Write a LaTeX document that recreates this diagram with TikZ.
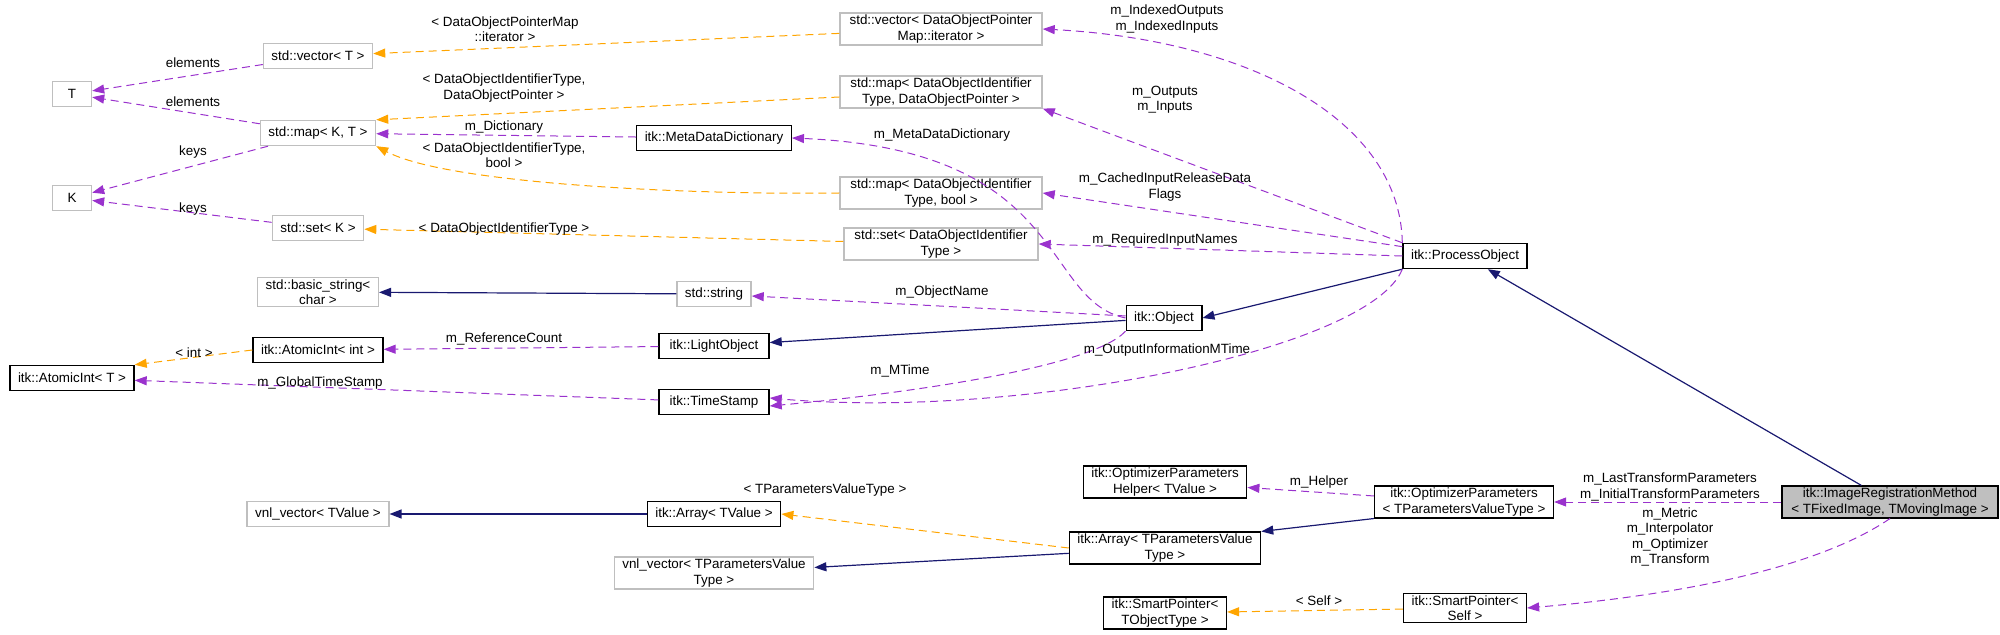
\documentclass[tikz,border=0pt]{standalone}
\usepackage{fontspec}
\setmainfont{Liberation Sans}
\usetikzlibrary{arrows.meta}
\definecolor{usecol}{HTML}{9A32CD}
\definecolor{tplcol}{HTML}{FFA500}
\definecolor{inhcol}{HTML}{191970}
\definecolor{extcol}{HTML}{BFBFBF}
\begin{document}
\begin{tikzpicture}[x=0.5pt,y=-0.5pt,>={Triangle[length=6pt,width=4.5pt]},
                    font=\fontsize{6.7}{7.6}\selectfont,
                    cls/.style={draw=black,line width=0.7pt,fill=white,align=center,
                                inner xsep=4pt,inner ysep=1pt,minimum height=12.5pt},
                    ext/.style={cls,draw=extcol},
                    member/.style={->,usecol,dash pattern=on 4pt off 2.5pt,line width=0.5pt},
                    tmpl/.style={->,tplcol,dash pattern=on 4pt off 2.5pt,line width=0.5pt},
                    inherit/.style={->,inhcol,line width=0.6pt},
                    lbl/.style={align=center,inner sep=0pt}]
  \useasboundingbox (0,0) rectangle (2000,635);
  % left column
  \node[ext,minimum width=19.5pt] (t) at (72,94) {T};
  \node[ext,minimum width=19.5pt] (k) at (72,198) {K};
  \node[cls] (atomt) at (72,378) {itk::AtomicInt\textless{} T \textgreater{}};
  % second column
  \node[ext] (vect) at (318,56) {std::vector\textless{} T \textgreater{}};
  \node[ext] (mapkt) at (318,133) {std::map\textless{} K, T \textgreater{}};
  \node[ext] (setk) at (318,228) {std::set\textless{} K \textgreater{}};
  \node[ext] (bstr) at (318,292) {std::basic\_string\textless{}\\char \textgreater{}};
  \node[cls] (atomi) at (318,350) {itk::AtomicInt\textless{} int \textgreater{}};
  \node[ext] (vnlv) at (318,514) {vnl\_vector\textless{} TValue \textgreater{}};
  % third column
  \node[cls] (mdd) at (714,138) {itk::MetaDataDictionary};
  \node[ext] (str) at (714,294) {std::string};
  \node[cls,minimum width=55pt] (lobj) at (714,346) {itk::LightObject};
  \node[cls,minimum width=55pt] (tstamp) at (714,402) {itk::TimeStamp};
  \node[cls] (arrv) at (714,514) {itk::Array\textless{} TValue \textgreater{}};
  \node[ext] (vnlp) at (714,573) {vnl\_vector\textless{} TParametersValue\\Type \textgreater{}};
  % std containers of the process object
  \node[ext,minimum width=101pt] (vecdop) at (941,29) {std::vector\textless{} DataObjectPointer\\Map::iterator \textgreater{}};
  \node[ext,minimum width=101pt] (mapdop) at (941,92) {std::map\textless{} DataObjectIdentifier\\Type, DataObjectPointer \textgreater{}};
  \node[ext,minimum width=101pt] (mapbool) at (941,193) {std::map\textless{} DataObjectIdentifier\\Type, bool \textgreater{}};
  \node[ext,minimum width=97pt] (setdoi) at (941,244) {std::set\textless{} DataObjectIdentifier\\Type \textgreater{}};
  % itk classes
  \node[cls] (obj) at (1164,318) {itk::Object};
  \node[cls] (ophelp) at (1165,482) {itk::OptimizerParameters\\Helper\textless{} TValue \textgreater{}};
  \node[cls] (arrp) at (1165,548) {itk::Array\textless{} TParametersValue\\Type \textgreater{}};
  \node[cls] (spobj) at (1165,613) {itk::SmartPointer\textless{}\\TObjectType \textgreater{}};
  \node[cls] (po) at (1465,256) {itk::ProcessObject};
  \node[cls] (opar) at (1464,502) {itk::OptimizerParameters\\\textless{} TParametersValueType \textgreater{}};
  \node[cls] (spself) at (1465,608) {itk::SmartPointer\textless{}\\Self \textgreater{}};
  \node[cls,fill=extcol,minimum width=108pt] (irm) at (1890,502) {itk::ImageRegistrationMethod\\\textless{} TFixedImage, TMovingImage \textgreater{}};

  % inheritance
  \draw[inherit] (str) -- (bstr);
  \draw[inherit] (obj) -- (lobj);
  \draw[inherit] (po.south west) -- (obj.east);
  \draw[inherit] (irm) -- (po);
  \draw[inherit] (opar.south west) -- (arrp.north east);
  \draw[inherit] (arrp) -- (vnlp);
  \draw[inherit] (arrv) -- (vnlv);

  % template instances
  \draw[tmpl] (vecdop) -- (vect);
  \draw[tmpl] (mapdop) -- (mapkt.north east);
  \draw[tmpl] (mapbool.west) .. controls (700,195) and (450,185) .. (mapkt.south east);
  \draw[tmpl] (setdoi) -- (setk);
  \draw[tmpl] (atomi.west) -- (atomt.north east);
  \draw[tmpl] (arrp.west) -- (arrv.east);
  \draw[tmpl] (spself) -- (spobj);

  % members
  \draw[member] (vect) -- (t);
  \draw[member] (mapkt) -- (t);
  \draw[member] (mapkt) -- (k);
  \draw[member] (setk) -- (k);
  \draw[member] (mdd) -- (mapkt);
  \draw[member] (lobj) -- (atomi);
  \draw[member] (tstamp) -- (atomt);
  \draw[member] (obj) -- (str);
  \draw[member] (obj.west) .. controls (1040,300) and (1070,150) .. (mdd.east);
  \draw[member] (obj.south west) .. controls (1090,370) and (880,396) .. ([yshift=-2pt]tstamp.east);
  \draw[member] (po.south west) .. controls (1370,350) and (1020,420) .. ([yshift=2pt]tstamp.east);
  \draw[member] (po.north west) .. controls (1400,120) and (1250,40) .. (vecdop.east);
  \draw[member] (po.north west) -- (mapdop.south east);
  \draw[member] (po) -- (mapbool.east);
  \draw[member] (po.west) -- (setdoi.east);
  \draw[member] (irm) -- (opar);
  \draw[member] (irm.south) .. controls (1800,580) and (1620,600) .. (spself.east);
  \draw[member] (opar) -- (ophelp);

  % edge labels
  \node[lbl] (l1) at (193,63) {elements};
  \node[lbl] (l2) at (193,102) {elements};
  \node[lbl] (l3) at (193,152) {keys};
  \node[lbl] (l4) at (193,209) {keys};
  \node[lbl] (l5) at (505,29) {\textless{} DataObjectPointerMap\\::iterator \textgreater{}};
  \node[lbl] (l6) at (504,88) {\textless{} DataObjectIdentifierType,\\DataObjectPointer \textgreater{}};
  \node[lbl] (l7) at (504,127) {m\_Dictionary};
  \node[lbl] (l8) at (504,155) {\textless{} DataObjectIdentifierType,\\bool \textgreater{}};
  \node[lbl] (l9) at (504,229) {\textless{} DataObjectIdentifierType \textgreater{}};
  \node[lbl] (l10) at (942,135) {m\_MetaDataDictionary};
  \node[lbl] (l11) at (942,292) {m\_ObjectName};
  \node[lbl] (l12) at (194,353) {\textless{} int \textgreater{}};
  \node[lbl] (l13) at (504,339) {m\_ReferenceCount};
  \node[lbl] (l14) at (320,383) {m\_GlobalTimeStamp};
  \node[lbl] (l15) at (900,371) {m\_MTime};
  \node[lbl] (l16) at (1167,19) {m\_IndexedOutputs\\m\_IndexedInputs};
  \node[lbl] (l17) at (1165,100) {m\_Outputs\\m\_Inputs};
  \node[lbl] (l18) at (1165,187) {m\_CachedInputReleaseData\\Flags};
  \node[lbl] (l19) at (1165,240) {m\_RequiredInputNames};
  \node[lbl] (l20) at (1167,350) {m\_OutputInformationMTime};
  \node[lbl] (l21) at (825,490) {\textless{} TParametersValueType \textgreater{}};
  \node[lbl] (l22) at (1319,482) {m\_Helper};
  \node[lbl] (l23) at (1670,487) {m\_LastTransformParameters\\m\_InitialTransformParameters};
  \node[lbl] (l24) at (1670,537) {m\_Metric\\m\_Interpolator\\m\_Optimizer\\m\_Transform};
  \node[lbl] (l25) at (1319,601) {\textless{} Self \textgreater{}};
\end{tikzpicture}
\end{document}
